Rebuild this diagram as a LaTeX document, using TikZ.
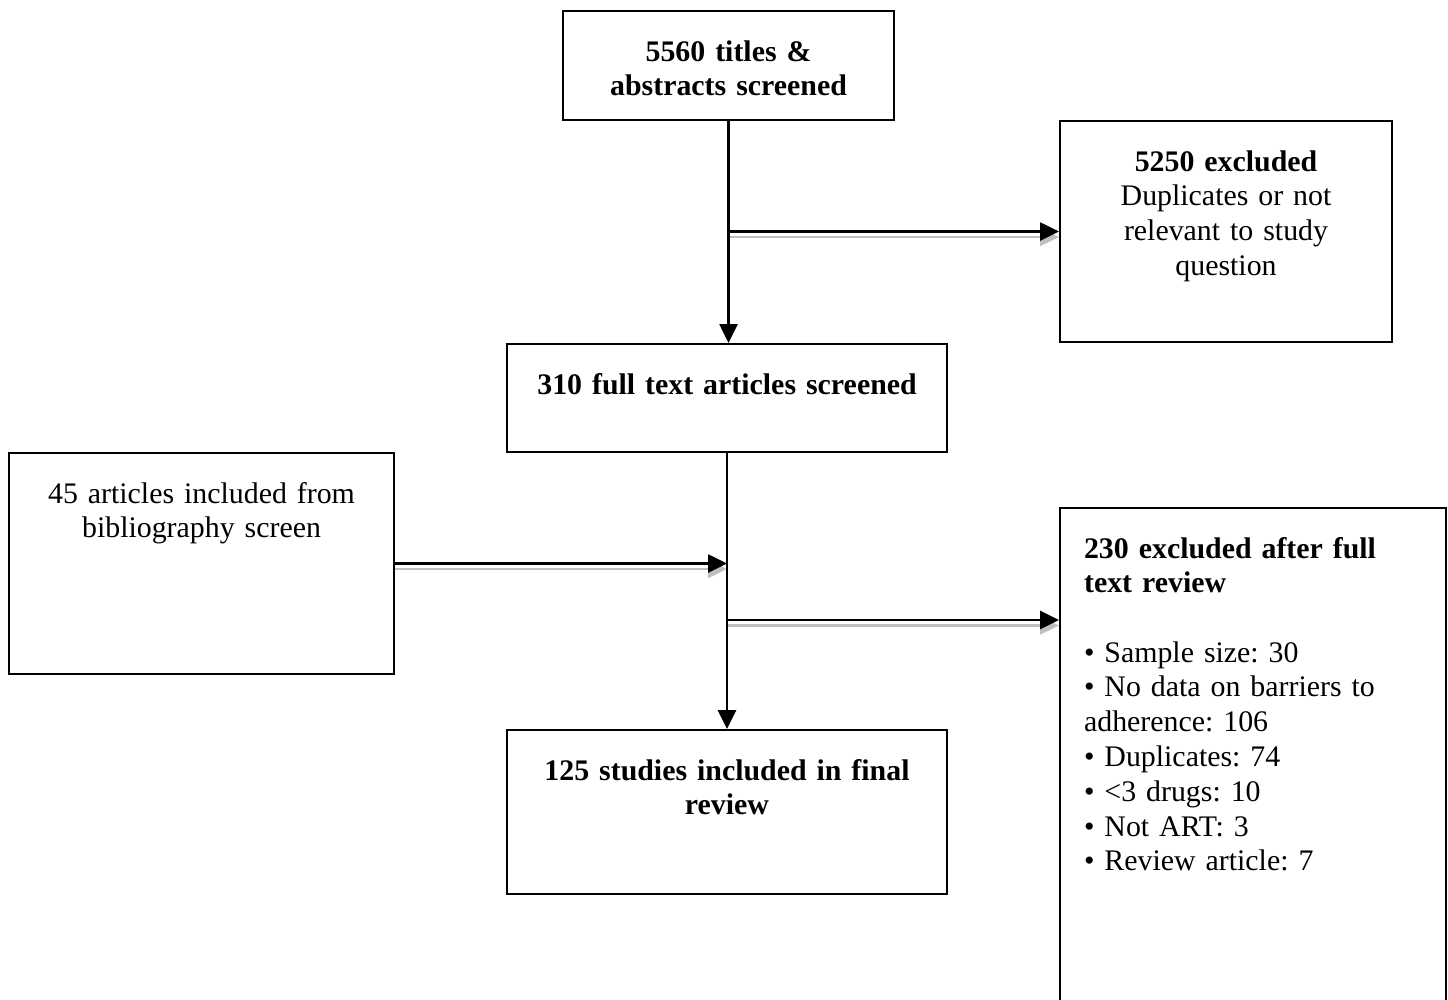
\documentclass[tikz,border=0pt]{standalone}
\usepackage{fontspec}
\setmainfont{Liberation Serif}
\usetikzlibrary{arrows.meta}
\frenchspacing

\begin{document}
\begin{tikzpicture}[
	x=0.02cm,
	y=-0.02cm,
	font=\fontsize{17pt}{19.8pt}\selectfont,
	box/.style={
		draw,
		line width=1.2pt,
		anchor=north west,
		inner xsep=0.2cm,
		inner ysep=0.5cm,
		text height=0.5cm,
		align=center
	},
	arr/.style={
		-{Triangle[length=0.38cm,width=0.36cm]},
		line width=1.6pt
	},
	glow/.style={
		-{Triangle[length=0.38cm,width=0.36cm]},
		color=black!25,
		line width=1.2pt
	}]

   \useasboundingbox (0,0) rectangle (1448,1000);

   \node[box, text width=6.22cm, text depth=0.68cm] (titles) at (562,10)
   	{\textbf{5560 titles \&\\abstracts screened}};
   \node[box, text width=6.24cm, text depth=2.92cm] (excl1) at (1059,120)
   	{\textbf{5250 excluded}\\Duplicates or not\\relevant to study\\question};
   \node[box, text width=8.4cm, text depth=0.66cm] (full) at (506,343)
   	{\textbf{310 full text articles screened}};
   \node[box, text width=7.3cm, text depth=2.92cm] (biblio) at (8,452)
   	{45 articles included from\\bibliography screen};
   \node[box, inner xsep=0.48cm, text width=6.76cm, text depth=8.9cm, align=left] (excl2) at (1059,507)
   	{\textbf{230 excluded after full}\\\textbf{text review}\\[0.69cm]
   	 • Sample size: 30\\
   	 • No data on barriers to\\
   	 adherence: 106\\
   	 • Duplicates: 74\\
   	 • <3 drugs: 10\\
   	 • Not ART: 3\\
   	 • Review article: 7};
   \node[box, text width=8.4cm, text depth=1.78cm] (final) at (506,729)
   	{\textbf{125 studies included in final\\review}};

   \coordinate (split) at (727,620);

   % soft grey shadow under the side arrows
   \begin{scope}[transform canvas={yshift=-0.11cm}]
   \path[glow]
    (titles.south |- excl1.west) edge (excl1.west)
    (biblio.east) edge (biblio.east -| full.south)
    (split) edge (split -| excl2.west);
   \end{scope}

   \path[arr]
    (titles.south) edge (titles.south |- full.north)
    (titles.south |- excl1.west) edge (excl1.west)
    (full.south) edge (full.south |- final.north)
    (biblio.east) edge (biblio.east -| full.south)
    (split) edge (split -| excl2.west);
\end{tikzpicture}
\end{document}
